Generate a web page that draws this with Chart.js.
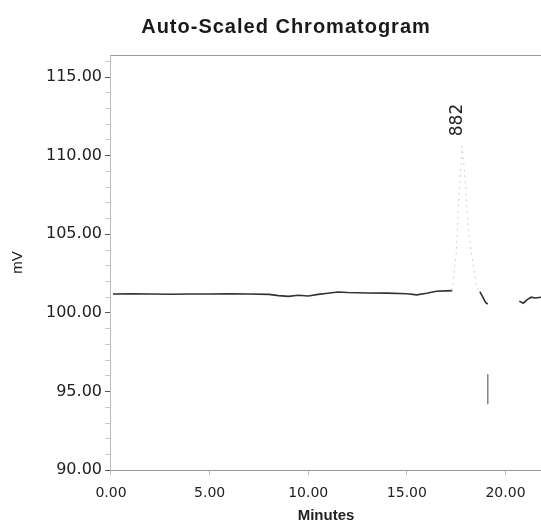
<!DOCTYPE html>
<html lang="en">
<head>
  <meta charset="UTF-8" />
  <title>Auto-Scaled Chromatogram</title>
  <script src="https://cdn.jsdelivr.net/npm/chart.js"></script>
  <style>
    html, body { margin: 0; padding: 0; background: #fff; }
    #wrap { width: 541px; height: 526px; }
  </style>
</head>
<body>

<div id="wrap"><canvas id="chrom"></canvas></div>

<script>
  // detector trace: retention time (min) against signal (mV)
  const minutes = [0.1, 1, 2, 3, 4, 5, 6, 7, 8, 8.5, 9, 9.5, 10, 10.5, 11, 11.5, 12, 13, 14, 15, 15.5, 16,
                   16.5, 17, 17.3, 17.5, 17.65, 17.8, 17.95, 18.1, 18.25, 18.4, 18.55, 18.7, 18.85, 19.0, 19.1,
                   19.9, 20.7, 20.9, 21.1, 21.3, 21.5, 21.8];
  const signal  = [101.2, 101.21, 101.2, 101.19, 101.2, 101.2, 101.21, 101.2, 101.18, 101.1, 101.05, 101.12, 101.08, 101.18, 101.25, 101.33, 101.3, 101.27, 101.26, 101.22, 101.15, 101.25,
                   101.38, 101.4, 101.42, 103.8, 107.5, 110.6, 108.6, 105.6, 104.0, 102.8, 101.6, 101.35, 101.0, 100.65, 100.57,
                   null, 100.75, 100.62, 100.85, 101.0, 100.95, 101.0];

  // event mark drawn below the trace after the peak
  const markerMinutes = [19.1, 19.1];
  const markerSignal = [96.1, 94.2];

  const peakTime = 17.8;
  const peakName = "882";

  const xLabelled = [0, 5, 10, 15, 20];
  const yLabelled = [90, 95, 100, 105, 110, 115];

  const faint = c => c.p0.parsed.y > 101.5 || c.p1.parsed.y > 101.5;

  const annotate = {
    id: "annotate",
    afterDatasetsDraw(chart) {
      const { ctx, scales: { x, y } } = chart;
      const i = minutes.indexOf(peakTime);
      const px = x.getPixelForValue(peakTime);
      const py = y.getPixelForValue(signal[i]);

      ctx.save();
      ctx.fillStyle = "#222";
      ctx.font = '17px "DejaVu Sans"';
      ctx.translate(px - 5, py - 10);
      ctx.rotate(-Math.PI / 2);
      ctx.textAlign = "left";
      ctx.textBaseline = "middle";
      ctx.fillText(peakName, 0, 0);
      ctx.restore();

      ctx.save();
      ctx.fillStyle = "#1a1a1a";
      ctx.font = 'bold 20px "Liberation Sans", Arial, sans-serif';
      ctx.letterSpacing = "1px";
      ctx.textAlign = "center";
      ctx.textBaseline = "middle";
      ctx.fillText("Auto-Scaled Chromatogram", 286, 27);
      ctx.restore();
    }
  };

  new Chart(document.getElementById("chrom"), {
    type: "line",
    data: {
      datasets: [
        {
          data: minutes.map((t, i) => ({ x: t, y: signal[i] })),
          borderColor: "#333",
          borderWidth: 1.6,
          pointRadius: 0,
          tension: 0,
          spanGaps: false,
          segment: {
            borderColor: c => faint(c) ? "#cfcfcf" : undefined,
            borderDash: c => faint(c) ? [2, 4] : undefined,
            borderWidth: c => faint(c) ? 1 : undefined
          }
        },
        {
          data: markerMinutes.map((t, i) => ({ x: t, y: markerSignal[i] })),
          borderColor: "#888",
          borderWidth: 1,
          pointRadius: 0
        }
      ]
    },
    options: {
      responsive: true,
      maintainAspectRatio: false,
      animation: false,
      layout: { padding: { top: 47, left: 9, right: 0, bottom: 3 } },
      plugins: { legend: { display: false }, tooltip: { enabled: false } },
      scales: {
        x: {
          type: "linear",
          min: 0,
          max: 21.8,
          afterBuildTicks: axis => { axis.ticks = xLabelled.map(v => ({ value: v })); },
          border: { color: "#999", dash: [28, 6] },
          grid: { drawOnChartArea: false, tickLength: 5, tickColor: "#bbb" },
          ticks: {
            autoSkip: false,
            maxRotation: 0,
            padding: 10,
            color: "#222",
            font: { family: "DejaVu Sans", size: 14 },
            callback: v => v.toFixed(2)
          },
          title: {
            display: true,
            text: "Minutes",
            color: "#222",
            font: { family: "Liberation Sans", size: 15, weight: "bold", lineHeight: 1 },
            padding: { top: -4, bottom: 0 }
          }
        },
        xTop: {
          type: "linear",
          position: "top",
          min: 0,
          max: 21.8,
          border: { color: "#999", dash: [40, 8] },
          grid: { display: false },
          ticks: { display: false }
        },
        y: {
          min: 90,
          max: 116.4,
          border: { color: "#bbb", dash: [3, 5] },
          grid: {
            drawOnChartArea: false,
            tickLength: 6,
            tickColor: c => yLabelled.includes(c.tick.value) ? "#555" : "#c8c8c8"
          },
          ticks: {
            stepSize: 1,
            autoSkip: false,
            includeBounds: false,
            padding: 3,
            color: "#222",
            font: { family: "DejaVu Sans", size: 16 },
            callback: v => yLabelled.includes(v) ? v.toFixed(2) : ""
          },
          title: {
            display: true,
            text: "mV",
            color: "#222",
            font: { family: "Liberation Sans", size: 15 },
            padding: { top: 0, bottom: 16 }
          }
        }
      }
    },
    plugins: [annotate]
  });
</script>

</body>
</html>
